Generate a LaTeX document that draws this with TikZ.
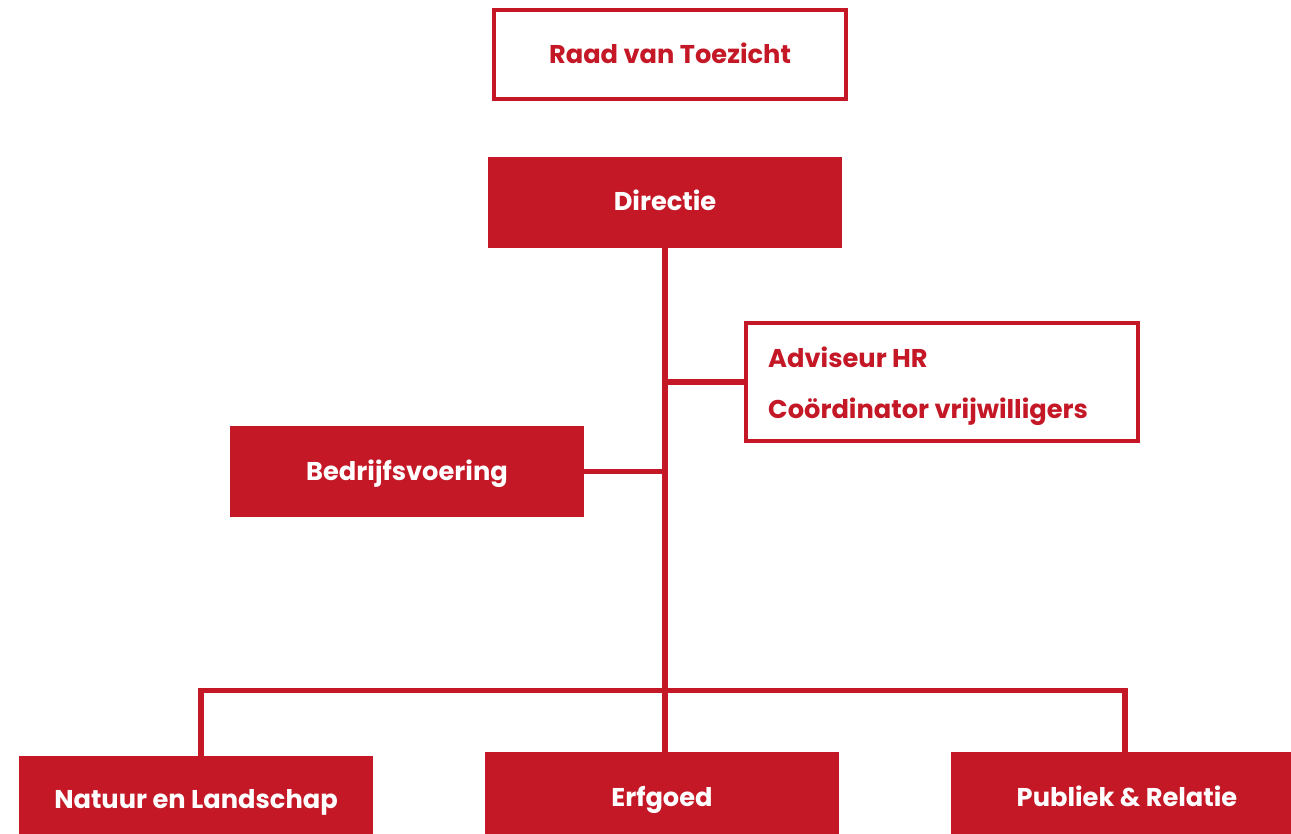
\documentclass[tikz,border=0pt]{standalone}
\usepackage{fontspec}
\setmainfont{Poppins}
\definecolor{orgred}{RGB}{196,24,38}
\tikzset{
  fillbox/.style={rectangle, fill=orgred, draw=none, inner sep=0pt},
  outbox/.style={rectangle, draw=orgred, line width=4pt, fill=white, inner sep=0pt},
  toptxt/.style={font=\fontsize{25.7}{25.7}\selectfont\bfseries, inner sep=0pt, text height=18pt, text depth=0pt},
  conn/.style={draw=orgred, line width=5.5pt}
}
\begin{document}
\begin{tikzpicture}[x=1pt,y=-1pt]
\useasboundingbox (0,0) rectangle (1291,834);
% boxes
\node[outbox, minimum width=352pt, minimum height=89pt] (raad) at (670,54.5) {};
\node[toptxt, text=orgred] (raadt) at (670,55) {Raad van Toezicht};
\node[fillbox, minimum width=354pt, minimum height=91pt] (dir) at (665,202.5) {};
\node[toptxt, text=white] (dirt) at (665,201.7) {Directie};
\node[outbox, minimum width=392pt, minimum height=118pt] (adv) at (942,382) {};
\node[toptxt, text=orgred, anchor=west] (adv1) at (768,358.3) {Adviseur HR};
\node[toptxt, text=orgred, anchor=west] (adv2) at (768,409.2) {Coördinator vrijwilligers};
\node[fillbox, minimum width=354pt, minimum height=91pt] (bed) at (407,471.5) {};
\node[toptxt, text=white] (bedt) at (407,471) {Bedrijfsvoering};
\node[fillbox, minimum width=354pt, minimum height=100pt] (nat) at (196,806) {};
\node[toptxt, text=white] (natt) at (196,799.5) {Natuur en Landschap};
\node[fillbox, minimum width=354pt, minimum height=100pt] (erf) at (662,802) {};
\node[toptxt, text=white] (erft) at (662,797) {Erfgoed};
\node[fillbox, minimum width=352pt, minimum height=100pt] (pub) at (1127,802) {};
\node[toptxt, text=white] (pubt) at (1127,797) {Publiek \& Relatie};
% connectors
\coordinate (bl) at (201,690.5);
\coordinate (br) at (1125,690.5);
\draw[conn] (dir.south) -- (dir.south |- erf.north);
\draw[conn] (adv.west) -- (adv.west -| dir.south);
\draw[conn] (bed.east) -- (bed.east -| dir.south);
\draw[conn] (nat.north -| bl) -- (bl) -- (br) -- (pub.north -| br);
\end{tikzpicture}
\end{document}
